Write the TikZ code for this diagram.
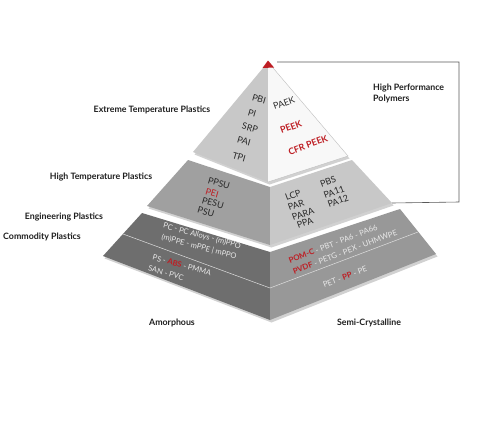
\documentclass[tikz,border=0pt]{standalone}
\usepackage{fontspec}
\setmainfont{Lato}
\definecolor{pred}{RGB}{190,30,36}
\definecolor{dtext}{RGB}{40,40,40}
\definecolor{ltext}{RGB}{232,232,232}
\definecolor{topL}{RGB}{200,200,200}
\definecolor{topR}{RGB}{248,248,248}
\definecolor{midL}{RGB}{160,160,160}
\definecolor{midR}{RGB}{200,200,200}
\definecolor{botL}{RGB}{110,110,110}
\definecolor{botR}{RGB}{152,152,152}
\tikzset{
  lbl/.style={font=\fontsize{8.8}{10.5}\selectfont\bfseries, text=black!88, inner sep=0pt},
  itmL/.style={font=\fontsize{9}{10}\selectfont, text=dtext, inner sep=0pt, rotate=-16},
  itmR/.style={font=\fontsize{9}{10}\selectfont, text=dtext, inner sep=0pt, rotate=20},
  botTL/.style={font=\fontsize{7.6}{9}\selectfont, text=ltext, inner sep=0pt, rotate=-15},
  botTR/.style={font=\fontsize{7.8}{9}\selectfont, text=ltext, inner sep=0pt, rotate=21},
  shadow/.style={fill=black, opacity=0.18},
  bracket/.style={draw=black!65, line width=0.6pt},
  divider/.style={draw=white!75!gray, line width=0.5pt}
}
\begin{document}
\begin{tikzpicture}[x=1pt,y=-1pt]
\useasboundingbox[fill=white] (0,0) rectangle (500,423);
% coordinates
\coordinate (A) at (268,62);
\coordinate (TL) at (193,152); \coordinate (TB) at (268,182); \coordinate (TR) at (348,156);
\coordinate (MTL) at (188,160); \coordinate (MTB) at (270,187); \coordinate (MTR) at (352,160);
\coordinate (MBL) at (147,206); \coordinate (MBB) at (270,245); \coordinate (MBR) at (392,203);
\coordinate (BTL) at (142,213); \coordinate (BTB) at (270,252); \coordinate (BTR) at (400,209);
\coordinate (BBL) at (103,256); \coordinate (BBB) at (270,320); \coordinate (BBR) at (436,254);
\coordinate (DL) at (123,234); \coordinate (DB) at (270,288); \coordinate (DR) at (418,232);
% shadows
\fill[shadow] ([shift={(1.5,2.5)}]A) -- ([shift={(1.5,2.5)}]TL) -- ([shift={(1.5,2.5)}]TB) -- ([shift={(1.5,2.5)}]TR) -- cycle;
\fill[shadow] ([shift={(1.5,2.5)}]MTL) -- ([shift={(1.5,2.5)}]MTB) -- ([shift={(1.5,2.5)}]MTR) -- ([shift={(1.5,2.5)}]MBR) -- ([shift={(1.5,2.5)}]MBB) -- ([shift={(1.5,2.5)}]MBL) -- cycle;
\fill[shadow] ([shift={(1.5,2.5)}]BTL) -- ([shift={(1.5,2.5)}]BTB) -- ([shift={(1.5,2.5)}]BTR) -- ([shift={(1.5,2.5)}]BBR) -- ([shift={(1.5,2.5)}]BBB) -- ([shift={(1.5,2.5)}]BBL) -- cycle;
% bracket
\draw[bracket] (277,62) -- (459,62) -- (459,202) -- (MBR);
% top tier
\fill[topL] (A) -- (TL) -- (TB) -- cycle;
\fill[topR] (A) -- (TB) -- (TR) -- cycle;
\draw[black!25, line width=0.4pt] (TB) -- (TR) -- (A);
\fill[pred] (268,60.5) -- (262.5,68) -- (274,67.5) -- cycle;
% middle tier
\fill[midL] (MTL) -- (MTB) -- (MBB) -- (MBL) -- cycle;
\fill[midR] (MTB) -- (MTR) -- (MBR) -- (MBB) -- cycle;
% bottom tier
\fill[botL] (BTL) -- (BTB) -- (BBB) -- (BBL) -- cycle;
\fill[botR] (BTB) -- (BTR) -- (BBR) -- (BBB) -- cycle;
\draw[divider] (DL) -- (DB) -- (DR);
% top tier texts
\node[itmL] (pbi) at (259,99) {PBI};
\node[itmL] (pi) at (252,113) {PI};
\node[itmL] (srp) at (250,128) {SRP};
\node[itmL] (pai) at (244,141) {PAI};
\node[itmL] (tpi) at (239,157) {TPI};
\node[itmR] (paek) at (284,103) {PAEK};
\node[itmR, text=pred, font=\fontsize{9}{10}\selectfont\bfseries] (peek) at (291,127) {PEEK};
\node[itmR, text=pred, font=\fontsize{9}{10}\selectfont\bfseries] (cfr) at (308,145) {CFR PEEK};
% middle tier texts
\node[itmL] (ppsu) at (219,183) {PPSU};
\node[itmL, text=pred] (pei) at (212,193) {PEI};
\node[itmL] (pesu) at (213,203) {PESU};
\node[itmL] (psu) at (206,212) {PSU};
\node[itmR] (lcp) at (293,195) {LCP};
\node[itmR] (par) at (296,205) {PAR};
\node[itmR] (para) at (303,214) {PARA};
\node[itmR] (ppa) at (305,223) {PPA};
\node[itmR] (pbs) at (328,182) {PBS};
\node[itmR] (pa11) at (334,192) {PA11};
\node[itmR] (pa12) at (338,201) {PA12};
% bottom tier texts
\node[botTL] (pc) at (202,236) {PC - PC Alloys - (m)PPO};
\node[botTL] (mppe) at (199,247) {(m)PPE - mPPE | mPPO};
\node[botTL] (ps) at (182,265) {PS - \textcolor{pred}{\bfseries ABS} - PMMA};
\node[botTL] (san) at (166,273) {SAN - PVC};
\node[botTR] (pom) at (333,244) {\textcolor{pred}{\bfseries POM-C} - PBT - PA6 - PA66};
\node[botTR] (pvdf) at (345,252) {\textcolor{pred}{\bfseries PVDF} - PETG - PEX - UHMWPE};
\node[botTR] (pet) at (345,277) {PET - \textcolor{pred}{\bfseries PP} - PE};
% side labels
\node[lbl] (ext) at (152,110) {Extreme Temperature Plastics};
\node[lbl] (hig) at (101,177) {High Temperature Plastics};
\node[lbl] (eng) at (64,217) {Engineering Plastics};
\node[lbl] (com) at (42,237) {Commodity Plastics};
\node[lbl, anchor=north west, align=left] (hpp) at (373,84) {High Performance\\Polymers};
\node[lbl] (amo) at (172,323) {Amorphous};
\node[lbl] (semi) at (369,323) {Semi-Crystalline};
\end{tikzpicture}
\end{document}
